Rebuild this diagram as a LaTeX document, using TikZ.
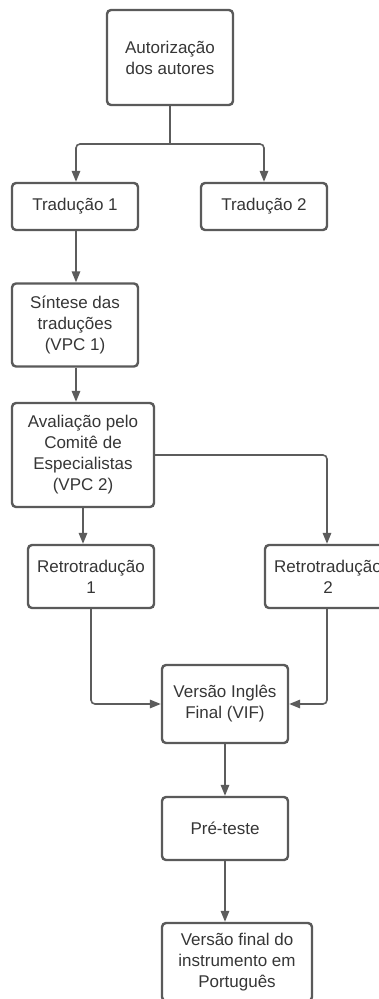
\documentclass[tikz,border=0pt]{standalone}
\usepackage{fontspec}
\setmainfont{Liberation Sans}
\usetikzlibrary{arrows.meta}
\definecolor{boxline}{HTML}{5A5A5A}
\definecolor{txt}{HTML}{363636}
\definecolor{conline}{HTML}{5C5C5C}
\begin{document}
\begin{tikzpicture}[x=1pt,y=-1pt,
  stepbox/.style={draw=boxline,line width=2.4pt,rounded corners=4pt,fill=white,
    text=txt,align=center,font=\fontsize{17}{21}\selectfont,inner sep=0pt,
    minimum width=126pt},
  conn/.style={draw=conline,line width=1.6pt,rounded corners=4pt,
    -{Triangle[length=11pt,width=8.5pt]}},
  connplain/.style={draw=conline,line width=1.6pt,rounded corners=4pt}]
\clip (0,0) rectangle (379,999);
\fill[white] (0,0) rectangle (379,999);
\node[stepbox,minimum height=95pt] (a) at (170,57.5) {Autorização\\dos autores};
\node[stepbox,minimum height=47pt] (t1) at (75,206.5) {Tradução 1};
\node[stepbox,minimum height=47pt] (t2) at (264,206.5) {Tradução 2};
\node[stepbox,minimum height=83pt] (s) at (75,325) {Síntese das\\traduções\\(VPC 1)};
\node[stepbox,minimum height=104pt,minimum width=142pt] (av) at (83,455) {Avaliação pelo\\Comitê de\\Especialistas\\(VPC 2)};
\node[stepbox,minimum height=63pt] (r1) at (91,576.5) {Retrotradução\\1};
\node[stepbox,minimum height=63pt] (r2) at (328,576.5) {Retrotradução\\2};
\node[stepbox,minimum height=78pt] (vif) at (225,704) {Versão Inglês\\Final (VIF)};
\node[stepbox,minimum height=63pt] (p) at (225,828.5) {Pré-teste};
\node[stepbox,minimum height=78pt,minimum width=150pt] (f) at (237,962) {Versão final do\\instrumento em\\Português};
\coordinate (split) at (170,144);
\draw[connplain] (a.south) -- (split);
\draw[conn] (split) -| ([xshift=1pt]t1.north);
\draw[conn] (split) -| (t2.north);
\draw[conn] ([xshift=1pt]t1.south) -- ([xshift=1pt]t1.south |- s.north);
\draw[conn] ([xshift=1pt]s.south) -- ([xshift=1pt]s.south |- av.north);
\draw[conn] (av.south) -- (av.south |- r1.north);
\draw[conn] (av.east) -| ([xshift=-1pt]r2.north);
\draw[conn] (r1.south) |- (vif.west);
\draw[conn] ([xshift=-1pt]r2.south) |- (vif.east);
\draw[conn] (vif.south) -- (p.north);
\draw[conn] (p.south) -- (p.south |- f.north);
\end{tikzpicture}
\end{document}
